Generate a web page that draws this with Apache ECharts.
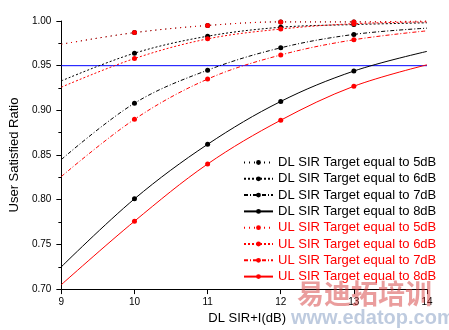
<!DOCTYPE html>
<html>
<head>
<meta charset="utf-8">
<style>
  html, body { margin: 0; padding: 0; background: #fff; }
  #chart { width: 449px; height: 330px; }
</style>
<script src="https://cdn.jsdelivr.net/npm/echarts@6/dist/echarts.min.js"></script>
</head>
<body>
<div id="chart"></div>
<script>
// DL SIR+I values (dB) along the x axis
const sirValues = [9, 10, 11, 12, 13, 14];

// User satisfied ratio for each SIR target
const dl5 = [0.974, 0.987, 0.995, 0.999, 0.999, 1.000];
const dl6 = [0.933, 0.964, 0.983, 0.993, 0.996, 0.998];
const dl7 = [0.845, 0.908, 0.945, 0.970, 0.985, 0.992];
const dl8 = [0.725, 0.801, 0.862, 0.910, 0.944, 0.966];
const ul5 = [0.974, 0.987, 0.995, 0.999, 0.999, 1.000];
const ul6 = [0.926, 0.958, 0.980, 0.991, 0.997, 0.999];
const ul7 = [0.826, 0.890, 0.935, 0.962, 0.979, 0.989];
const ul8 = [0.705, 0.776, 0.840, 0.889, 0.927, 0.951];

// Required ratio threshold
const threshold = 0.95;

const seriesNames = [
  'DL SIR Target equal to 5dB', 'DL SIR Target equal to 6dB',
  'DL SIR Target equal to 7dB', 'DL SIR Target equal to 8dB',
  'UL SIR Target equal to 5dB', 'UL SIR Target equal to 6dB',
  'UL SIR Target equal to 7dB', 'UL SIR Target equal to 8dB'
];
const seriesValues = [dl5, dl6, dl7, dl8, ul5, ul6, ul7, ul8];

const dashStyles = [[1, 4], [2, 2], [4, 2, 1, 2], 'solid'];

function buildSeries(name, values, idx) {
  const color = idx < 4 ? '#000000' : '#ff0000';
  const dash = dashStyles[idx % 4];
  return {
    name: name,
    type: 'line',
    smooth: 0.35,
    symbol: 'circle',
    symbolSize: 5,
    showAllSymbol: true,
    color: color,
    lineStyle: { color: color, width: 1, type: dash },
    itemStyle: { color: color },
    emphasis: { disabled: true },
    data: sirValues.map((x, i) => ({
      value: [x, values[i]],
      symbol: (i === 0 || i === sirValues.length - 1) ? 'none' : 'circle'
    })),
    z: 3 + idx
  };
}

const series = seriesNames.map((n, i) => buildSeries(n, seriesValues[i], i));

series.push({
  name: 'threshold',
  type: 'line',
  symbol: 'none',
  lineStyle: { color: '#0000ff', width: 1 },
  data: [[sirValues[0], threshold], [sirValues[sirValues.length - 1], threshold]],
  z: 2
});

const chart = echarts.init(document.getElementById('chart'), null, { renderer: 'canvas' });

chart.setOption({
  animation: false,
  backgroundColor: '#ffffff',
  grid: { left: 58, right: 22, top: 21, bottom: 36, containLabel: false },
  legend: {
    orient: 'vertical',
    left: 238,
    top: 151,
    itemWidth: 29,
    itemHeight: 6,
    itemGap: 3.3,
    selectedMode: false,
    data: seriesNames.map((n, i) => ({
      name: n,
      textStyle: { color: i < 4 ? '#000000' : '#ff0000' }
    })),
    textStyle: {
      fontFamily: 'Liberation Sans, Arial, sans-serif',
      fontSize: 13,
      lineHeight: 13
    }
  },
  xAxis: {
    type: 'value',
    min: 9,
    max: 14,
    interval: 1,
    name: 'DL SIR+I(dB)',
    nameLocation: 'middle',
    nameGap: 21,
    nameTextStyle: {
      fontFamily: 'Liberation Sans, Arial, sans-serif',
      fontSize: 13,
      color: '#000',
      padding: [0, 0, 0, 6]
    },
    axisLine: { lineStyle: { color: '#000', width: 1 } },
    axisTick: { show: true, inside: false, length: 5, lineStyle: { color: '#000' } },
    axisLabel: {
      margin: 8,
      fontFamily: 'Liberation Sans, Arial, sans-serif',
      fontSize: 10,
      color: '#000'
    },
    splitLine: { show: false }
  },
  yAxis: {
    type: 'value',
    min: 0.70,
    max: 1.00,
    interval: 0.05,
    name: 'User Satisfied Ratio',
    nameLocation: 'middle',
    nameGap: 39,
    nameTextStyle: {
      fontFamily: 'Liberation Sans, Arial, sans-serif',
      fontSize: 13,
      color: '#000'
    },
    axisLine: { show: true, lineStyle: { color: '#000', width: 1 } },
    axisTick: { show: true, inside: false, length: 5, lineStyle: { color: '#000' } },
    minorTick: { show: true, splitNumber: 2, length: 3, lineStyle: { color: '#000' } },
    axisLabel: {
      margin: 10,
      fontFamily: 'Liberation Sans, Arial, sans-serif',
      fontSize: 10,
      color: '#000',
      formatter: v => v.toFixed(2)
    },
    splitLine: { show: false }
  },
  graphic: [
    {
      type: 'text',
      left: 297,
      top: 280,
      z: 100,
      style: {
        text: '易迪拓培训',
        font: 'bold 27px "Noto Sans CJK SC", sans-serif',
        fill: 'rgba(214, 60, 60, 0.5)'
      }
    },
    {
      type: 'text',
      left: 291,
      top: 308,
      z: 100,
      style: {
        text: 'www.edatop.com',
        font: 'bold 20px "Liberation Sans", Arial, sans-serif',
        fill: 'rgba(110, 140, 185, 0.45)'
      }
    }
  ],
  series: series
});
</script>
</body>
</html>
